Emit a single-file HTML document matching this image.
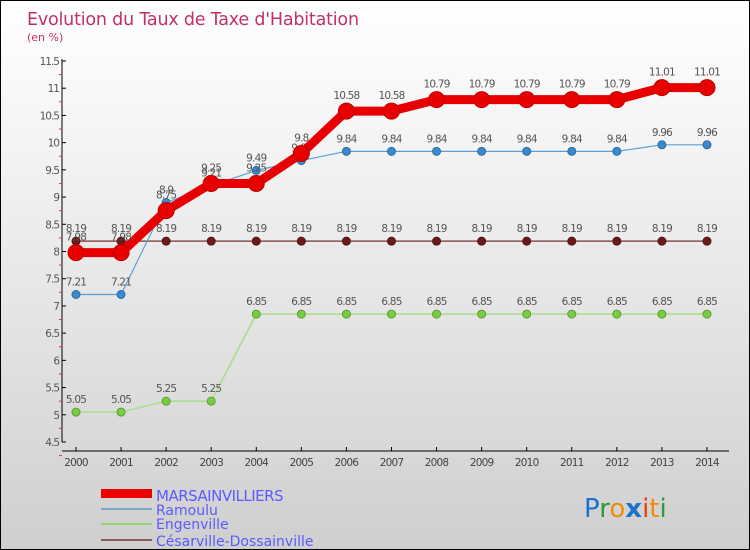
<!DOCTYPE html>
<html><head><meta charset="utf-8"><style>
body{margin:0;}
#c{width:750px;height:550px;position:relative;box-sizing:border-box;border:1px solid #000;background:linear-gradient(#fff 0%,#f2f2f2 30%,#cfcfcf 100%);font-family:"DejaVu Sans","Liberation Sans",sans-serif;overflow:hidden}
svg{position:absolute;left:0;top:0}
</style></head><body>
<div id="c">
<svg id="s" width="750" height="550">
<text x="26" y="24" font-size="17.5" fill="#c0306a" font-family="DejaVu Sans,sans-serif" style="letter-spacing:-0.2px">Evolution du Taux de Taxe d'Habitation</text>
<text x="26" y="40" font-size="11" fill="#c0306a">(en %)</text>
<g id="ax"></g><g id="series"></g>
<g>
<rect x="100" y="488" width="51" height="9" fill="#e00"/>
<text x="155" y="500" font-size="15" fill="#5a5aff" style="letter-spacing:-0.5px">MARSAINVILLIERS</text>
<rect x="100" y="507" width="51" height="2" fill="#7aa7c7"/>
<text x="155" y="514" font-size="14" fill="#5a5aff">Ramoulu</text>
<rect x="100" y="522" width="51" height="2" fill="#8fd870"/>
<text x="155" y="528" font-size="14" fill="#5a5aff">Engenville</text>
<rect x="100" y="538" width="51" height="2" fill="#8a5a5a"/>
<text x="155" y="545" font-size="14" fill="#5a5aff">Césarville-Dossainville</text>
</g>
<g font-size="26" font-family="DejaVu Sans,sans-serif">
<text x="583" y="516"><tspan fill="#1a73c9">P</tspan><tspan fill="#2a9a3a">r</tspan><tspan fill="#f08a10">o</tspan><tspan fill="#1a73c9" font-weight="bold">x</tspan><tspan fill="#e84010">i</tspan><tspan fill="#f08a10">t</tspan><tspan fill="#2a9a3a">i</tspan></text>
</g>
</svg>
</div>
<script>
const years=[2000,2001,2002,2003,2004,2005,2006,2007,2008,2009,2010,2011,2012,2013,2014];
const marsain=[7.98,7.98,8.75,9.25,9.25,9.8,10.58,10.58,10.79,10.79,10.79,10.79,10.79,11.01,11.01];
const ramoulu=[7.21,7.21,8.9,9.21,9.49,9.67,9.84,9.84,9.84,9.84,9.84,9.84,9.84,9.96,9.96];
const engen=[5.05,5.05,5.25,5.25,6.85,6.85,6.85,6.85,6.85,6.85,6.85,6.85,6.85,6.85,6.85];
const cesar=[8.19,8.19,8.19,8.19,8.19,8.19,8.19,8.19,8.19,8.19,8.19,8.19,8.19,8.19,8.19];
const yTicks=["4.5","5","5.5","6","6.5","7","7.5","8","8.5","9","9.5","10","10.5","11","11.5"];
const NS="http://www.w3.org/2000/svg";
const X=i=>75+i*45.07, Y=v=>441-(v-4.5)*54.43;
function mk(t,a,p){const e=document.createElementNS(NS,t);for(const k in a)e.setAttribute(k,a[k]);p.appendChild(e);return e;}
const ax=document.getElementById('ax'), sg=document.getElementById('series');
let yl=mk('line',{x1:61,y1:58,x2:61,y2:441,stroke:'#000'},ax);


yTicks.forEach(t=>{const y=Y(+t);
 mk('line',{x1:61,y1:y,x2:65,y2:y,stroke:'#000'},ax);
 mk('line',{x1:58,y1:y+13.6,x2:61,y2:y+13.6,stroke:'#e33'},ax);
 const tx=mk('text',{x:58,y:y+4,'font-size':10.5,fill:'#555','text-anchor':'end','letter-spacing':'-1'},ax);tx.textContent=t;
 
 });
let xl=mk('line',{x1:61,y1:450,x2:728,y2:450,stroke:'#000'},ax);


years.forEach((yr,i)=>{const x=X(i);mk('line',{x1:x,y1:446,x2:x,y2:450,stroke:'#000'},ax);
 const tx=mk('text',{x:x,y:465,'font-size':10.5,fill:'#444','text-anchor':'middle','letter-spacing':'-0.8'},ax);tx.textContent=yr;
 
 });
function series(vals,name,color,w,r,dot,stroke,lab){
 const g=mk('g',{},sg);
 
 
 mk('polyline',{points:vals.map((v,i)=>X(i)+','+Y(v)).join(' '),fill:'none',stroke:color,'stroke-width':w,'stroke-linejoin':'round'},g);
 vals.forEach((v,i)=>{const c=mk('circle',{cx:X(i),cy:Y(v),r:r,fill:dot,stroke:stroke,'stroke-width':1},g);
  
  
  const t=mk('text',{x:X(i),y:Y(v)-lab,'font-size':10.5,fill:'#555','text-anchor':'middle','letter-spacing':'-0.8'},g);t.textContent=v;
  
  });
}
series(engen,'engenville','#a8dd88',1.5,4,'#7acc44','#5aa030',9);
series(cesar,'cesarville','#8a5050',1.5,4,'#6a1a1a','#5a1010',9);
series(ramoulu,'ramoulu','#5aa0d8',1.2,4,'#3a8ad0','#2a6aa0',9);
series(marsain,'marsainvilliers','#e80000',9,8,'#e80000','#c00000',12);
</script>
</body></html>
